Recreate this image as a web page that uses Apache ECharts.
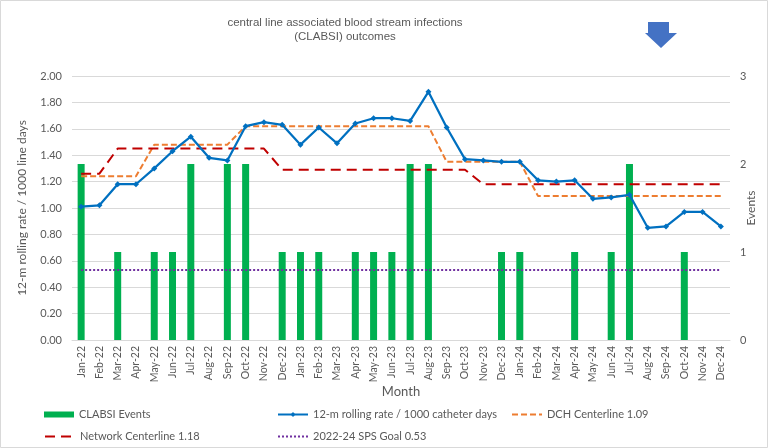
<!DOCTYPE html>
<html><head><meta charset="utf-8">
<script src="https://cdn.jsdelivr.net/npm/echarts@6/dist/echarts.min.js"></script>
<style>html,body{margin:0;padding:0;background:#fff}#c{width:768px;height:448px}</style>
</head><body><div id="c"></div>
<script>
const months = ['Jan-22','Feb-22','Mar-22','Apr-22','May-22','Jun-22','Jul-22','Aug-22','Sep-22','Oct-22','Nov-22','Dec-22',
'Jan-23','Feb-23','Mar-23','Apr-23','May-23','Jun-23','Jul-23','Aug-23','Sep-23','Oct-23','Nov-23','Dec-23',
'Jan-24','Feb-24','Mar-24','Apr-24','May-24','Jun-24','Jul-24','Aug-24','Sep-24','Oct-24','Nov-24','Dec-24'];
const events = [2,0,1,0,1,1,2,0,2,2,0,1, 1,1,0,1,1,1,2,2,0,0,0,1, 1,0,0,1,0,1,2,0,0,1,0,0];
const rate = [1.01,1.02,1.18,1.18,1.30,1.43,1.54,1.38,1.36,1.62,1.65,1.63,
1.48,1.61,1.49,1.64,1.68,1.68,1.66,1.88,1.61,1.37,1.36,1.35,
1.35,1.21,1.20,1.21,1.07,1.08,1.10,0.85,0.86,0.97,0.97,0.86];
const dch = [1.24,1.24,1.24,1.24,1.48,1.48,1.48,1.48,1.48,1.62,1.62,1.62,
1.62,1.62,1.62,1.62,1.62,1.62,1.62,1.62,1.35,1.35,1.35,1.35,
1.35,1.09,1.09,1.09,1.09,1.09,1.09,1.09,1.09,1.09,1.09,1.09];
const network = [1.26,1.26,1.45,1.45,1.45,1.45,1.45,1.45,1.45,1.45,1.45,1.29,
1.29,1.29,1.29,1.29,1.29,1.29,1.29,1.29,1.29,1.29,1.18,1.18,
1.18,1.18,1.18,1.18,1.18,1.18,1.18,1.18,1.18,1.18,1.18,1.18];
const goal = months.map(() => 0.53);
const seriesNames = ['CLABSI Events','12-m rolling rate / 1000 catheter days','DCH Centerline 1.09','Network Centerline 1.18','2022-24 SPS Goal 0.53'];
const leftTicks = {min:0, max:2, interval:0.2};
const rightTicks = {min:0, max:3, interval:1};

const FONT = 'Lato, "Noto Sans", sans-serif';
const TXT = '#595959';
const chart = echarts.init(document.getElementById('c'));
const legendBase = {itemWidth:30, itemHeight:6, itemGap:5, padding:0, textStyle:{color:TXT, fontSize:11, fontFamily:FONT}};
const noSym = {opacity:0};
chart.setOption({
  animation:false,
  textStyle:{fontFamily:FONT},
  graphic:[
    {type:'rect', shape:{x:0.5,y:0.5,width:767,height:447}, style:{fill:'none', stroke:'#D9D9D9', lineWidth:1}, silent:true},
    {type:'text', x:345, y:16, style:{text:'central line associated blood stream infections\n(CLABSI) outcomes', textAlign:'center', fill:TXT, font:'11.5px "Liberation Sans", Arial, sans-serif', lineHeight:14}},
    {type:'polygon', shape:{points:[[648,22],[669,22],[669,33],[677,33],[661,48],[645,33],[648,33]]}, style:{fill:'#4472C4'}}
  ],
  grid:{left:72, right:38, top:76, bottom:108, outerBoundsMode:'none', containLabel:false},
  legend:[
    Object.assign({data:[{name:seriesNames[0], icon:'rect'}], left:44, top:409}, legendBase),
    Object.assign({data:[seriesNames[1]], left:277, top:409}, legendBase),
    Object.assign({data:[{name:seriesNames[2], itemStyle:noSym}], left:511, top:409}, legendBase),
    Object.assign({data:[{name:seriesNames[3], itemStyle:noSym}], left:44, top:431}, legendBase),
    Object.assign({data:[{name:seriesNames[4], itemStyle:noSym}], left:277, top:431}, legendBase)
  ],
  xAxis:{type:'category', data:months, name:'Month', nameLocation:'middle', nameGap:45, nameMoveOverlap:false,
    nameTextStyle:{color:TXT, fontSize:13, fontFamily:FONT},
    axisLine:{lineStyle:{color:'#D9D9D9'}}, axisTick:{length:5, lineStyle:{color:'#D9D9D9'}},
    axisLabel:{rotate:90, interval:0, color:TXT, fontSize:10.5, margin:6}},
  yAxis:[
    {type:'value', min:leftTicks.min, max:leftTicks.max, interval:leftTicks.interval,
     name:'12-m rolling rate / 1000 line days', nameLocation:'middle', nameGap:44, nameRotate:90,
     nameTextStyle:{color:TXT, fontSize:12, fontFamily:FONT},
     axisLabel:{formatter:v=>v.toFixed(2), color:TXT, fontSize:11, margin:10},
     splitLine:{lineStyle:{color:'#D9D9D9'}}, axisLine:{show:false}, axisTick:{show:false}},
    {type:'value', min:rightTicks.min, max:rightTicks.max, interval:rightTicks.interval, position:'right',
     name:'Events', nameLocation:'middle', nameGap:15, nameRotate:90, nameMoveOverlap:false,
     nameTextStyle:{color:TXT, fontSize:12, fontFamily:FONT},
     axisLabel:{color:TXT, fontSize:11, margin:10},
     splitLine:{show:false}, axisLine:{show:false}, axisTick:{show:false}}
  ],
  series:[
    {name:seriesNames[0], type:'bar', yAxisIndex:1, data:events, barWidth:7, itemStyle:{color:'#00B050'}, z:1},
    {name:seriesNames[1], type:'line', data:rate, symbol:'diamond', symbolSize:6, itemStyle:{color:'#0070C0'}, lineStyle:{color:'#0070C0', width:2.25}, z:5},
    {name:seriesNames[2], type:'line', data:dch, symbol:'none', itemStyle:{color:'#ED7D31'}, lineStyle:{color:'#ED7D31', width:2, type:[6,3]}, z:3},
    {name:seriesNames[3], type:'line', data:network, symbol:'none', itemStyle:{color:'#C00000'}, lineStyle:{color:'#C00000', width:2, type:[10,6]}, z:3},
    {name:seriesNames[4], type:'line', data:goal, symbol:'none', itemStyle:{color:'#7030A0'}, lineStyle:{color:'#7030A0', width:2, type:[2,2]}, z:3}
  ]
});
</script></body></html>
